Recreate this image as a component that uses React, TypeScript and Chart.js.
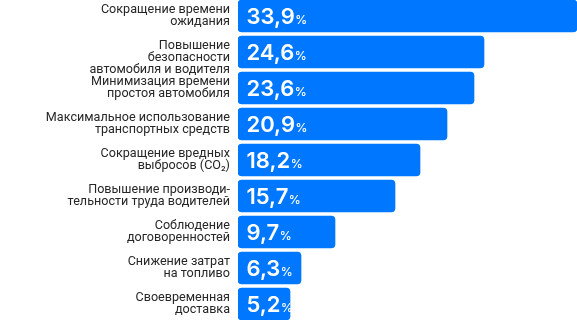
import React, { useEffect, useRef } from "react";
import { Chart, registerables } from "chart.js";

Chart.register(...registerables);

const categories: (string | string[])[] = [
  ["Сокращение времени", "ожидания"],
  ["", "Повышение", "безопасности", "автомобиля и водителя"],
  ["Минимизация времени", "простоя автомобиля"],
  ["Максимальное использование", "транспортных средств"],
  ["Сокращение вредных", "выбросов (CO₂)"],
  ["Повышение производи-", "тельности труда водителей"],
  ["Соблюдение", "договоренностей"],
  ["Снижение затрат", "на топливо"],
  ["Своевременная", "доставка"],
];

const values: number[] = [33.9, 24.6, 23.6, 20.9, 18.2, 15.7, 9.7, 6.3, 5.2];

const barColor = "#0077ff";
const labelColor = "#262626";

const valueLabelPlugin = {
  id: "valueLabels",
  afterDatasetsDraw(chart: any) {
    const { ctx } = chart;
    const meta = chart.getDatasetMeta(0);
    ctx.save();
    ctx.fillStyle = "#ffffff";
    ctx.textBaseline = "alphabetic";
    ctx.textAlign = "left";
    meta.data.forEach((bar: any, i: number) => {
      const v = values[i];
      const txt = v.toFixed(1).replace(".", ",");
      const x0 = bar.base + 8.5;
      const y = bar.y + 7.5;
      ctx.font = "600 22px Inter";
      ctx.fillText(txt, x0, y);
      const w = ctx.measureText(txt).width;
      ctx.font = "500 12px Inter";
      ctx.fillText("%", x0 + w + 0.5, y);
    });
    ctx.restore();
  },
};

export default function App() {
  const ref = useRef<HTMLCanvasElement | null>(null);

  useEffect(() => {
    if (!ref.current) return;
    const chart = new Chart(ref.current, {
      type: "bar",
      data: {
        labels: categories,
        datasets: [
          {
            data: values,
            backgroundColor: barColor,
            borderRadius: 4,
            borderSkipped: false,
            barThickness: 32,
          },
        ],
      },
      options: {
        indexAxis: "y",
        animation: false,
        responsive: false,
        maintainAspectRatio: false,
        layout: { padding: 0 },
        plugins: {
          legend: { display: false },
          tooltip: { enabled: false },
        },
        scales: {
          x: {
            type: "linear",
            min: 0,
            max: 33.9,
            display: false,
          },
          y: {
            grid: { display: false, drawTicks: false },
            border: { display: false },
            afterFit: (scale: any) => {
              scale.width = 238;
              scale.paddingTop = 0;
              scale.paddingBottom = 0;
            },
            ticks: {
              autoSkip: false,
              padding: 8,
              color: labelColor,
              font: { family: "Roboto", size: 12.6, lineHeight: 12 / 12.6 },
            },
          },
        },
      },
      plugins: [valueLabelPlugin],
    });
    return () => chart.destroy();
  }, []);

  return (
    <div style={{ position: "fixed", left: 0, top: -2, width: 577, height: 324, background: "#fff" }}>
      <canvas ref={ref} width={577} height={324} style={{ display: "block" }} />
    </div>
  );
}
